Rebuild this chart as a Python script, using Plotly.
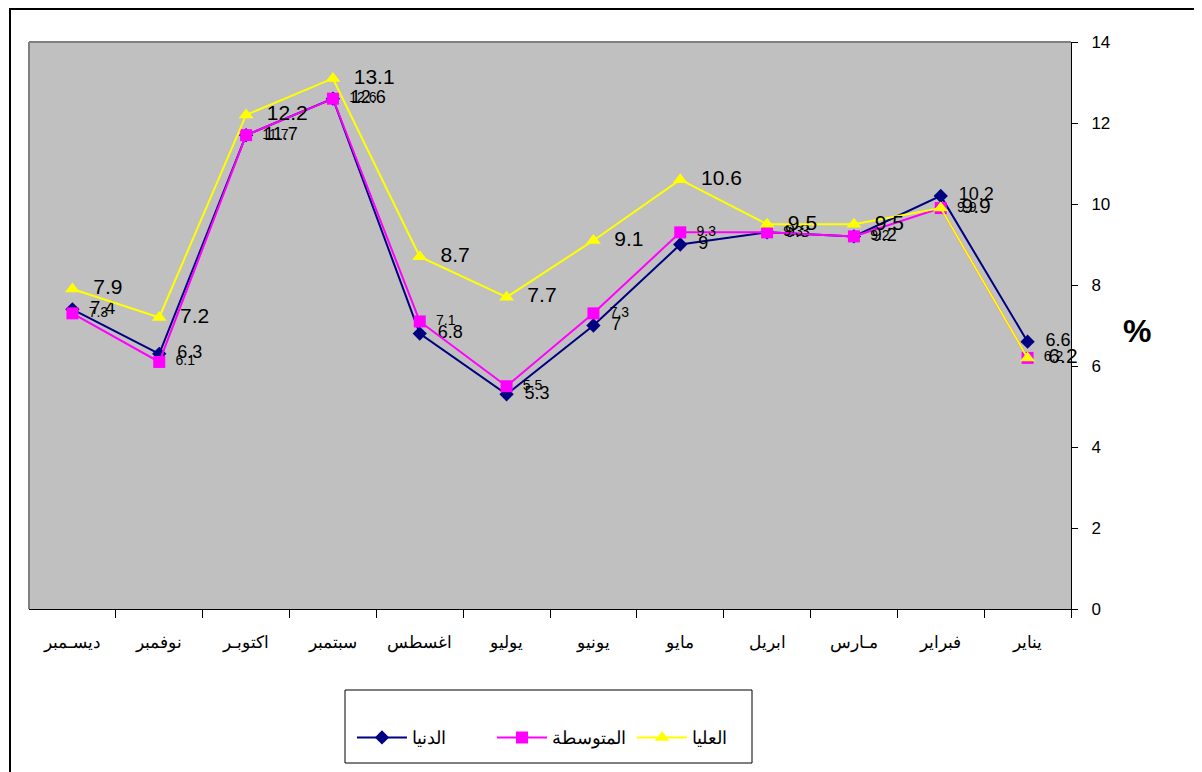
import plotly.graph_objects as go

months = ["يناير", "فبراير", "مـارس", "ابريل", "مايو", "يونيو", "يوليو", "اغسطس", "سبتمبر", "اكتوبـر", "نوفمبر", "ديسـمبر"]
low = [6.6, 10.2, 9.2, 9.3, 9.0, 7.0, 5.3, 6.8, 12.6, 11.7, 6.3, 7.4]
mid = [6.2, 9.9, 9.2, 9.3, 9.3, 7.3, 5.5, 7.1, 12.6, 11.7, 6.1, 7.3]
high = [6.2, 9.9, 9.5, 9.5, 10.6, 9.1, 7.7, 8.7, 13.1, 12.2, 7.2, 7.9]
names = ["الدنيا", "المتوسطة", "العليا"]
yticks = [0, 2, 4, 6, 8, 10, 12, 14]

fig = go.Figure()
fig.add_trace(go.Scatter(
    x=months, y=low, name=names[0], mode="lines+markers+text", cliponaxis=False,
    line=dict(color="#000080", width=2),
    marker=dict(symbol="diamond", size=11, color="#000080"),
    texttemplate="  %{y}", textposition="middle right",
    textfont=dict(size=18, color="black", family="Arial")))
fig.add_trace(go.Scatter(
    x=months, y=mid, name=names[1], mode="lines+markers+text", cliponaxis=False,
    line=dict(color="#FF00FF", width=2),
    marker=dict(symbol="square", size=12, color="#FF00FF"),
    texttemplate="  %{y}", textposition="middle right",
    textfont=dict(size=14, color="black", family="Arial")))
fig.add_trace(go.Scatter(
    x=months, y=high, name=names[2], mode="lines+markers+text", cliponaxis=False,
    line=dict(color="#FFFF00", width=2),
    marker=dict(symbol="triangle-up", size=13, color="#FFFF00"),
    texttemplate="  %{y}", textposition="middle right",
    textfont=dict(size=21, color="black", family="Arial")))

fig.update_layout(
    width=1202, height=772,
    margin=dict(l=21, r=139, t=34, b=171, autoexpand=False),
    paper_bgcolor="white", plot_bgcolor="#C0C0C0",
    font=dict(family="Arial", color="black"),
    showlegend=True,
    legend=dict(orientation="h", x=0.5115, y=-0.227, xanchor="center", yanchor="middle",
                borderwidth=0, bgcolor="rgba(0,0,0,0)", itemwidth=50,
                entrywidth=75, font=dict(size=18, family="Arial")),
    xaxis=dict(type="category", categoryorder="array", categoryarray=months,
               range=[11.5, -0.5], showgrid=False, zeroline=False, automargin=False,
               showline=True, linecolor="black", linewidth=1, tickangle=0,
               ticks="outside", tickson="boundaries", ticklen=8, tickcolor="black",
               ticklabelstandoff=18, tickfont=dict(size=17, family="Arial")),
    yaxis=dict(range=[0, 14], side="right", tickvals=yticks, showgrid=False,
               zeroline=False, showline=True, linecolor="black", linewidth=1,
               automargin=False, ticks="outside", ticklen=6, tickcolor="black",
               ticklabelstandoff=10, tickfont=dict(size=17, family="Arial")),
    shapes=[
        dict(type="line", xref="paper", yref="paper", x0=0, x1=1, y0=1, y1=1,
             line=dict(color="#808080", width=2)),
        dict(type="line", xref="paper", yref="paper", x0=0, x1=0, y0=0, y1=1,
             line=dict(color="#808080", width=2)),
        dict(type="rect", xref="paper", yref="paper", x0=(10 - 29) / 1042, x1=(1198 - 29) / 1042,
             y0=-0.3, y1=(609 - 9) / 567, line=dict(color="black", width=2), layer="below"),
        dict(type="rect", xref="paper", yref="paper", x0=(345 - 29) / 1042, x1=(752 - 29) / 1042,
             y0=(609 - 763) / 567, y1=(609 - 690) / 567,
             line=dict(color="black", width=1), layer="below"),
    ],
    annotations=[
        dict(text="<b>%</b>", xref="paper", yref="paper", x=1.079, y=0.491,
             showarrow=False, font=dict(size=32, family="Arial"))
    ],
)

fig.write_html("out.html")
